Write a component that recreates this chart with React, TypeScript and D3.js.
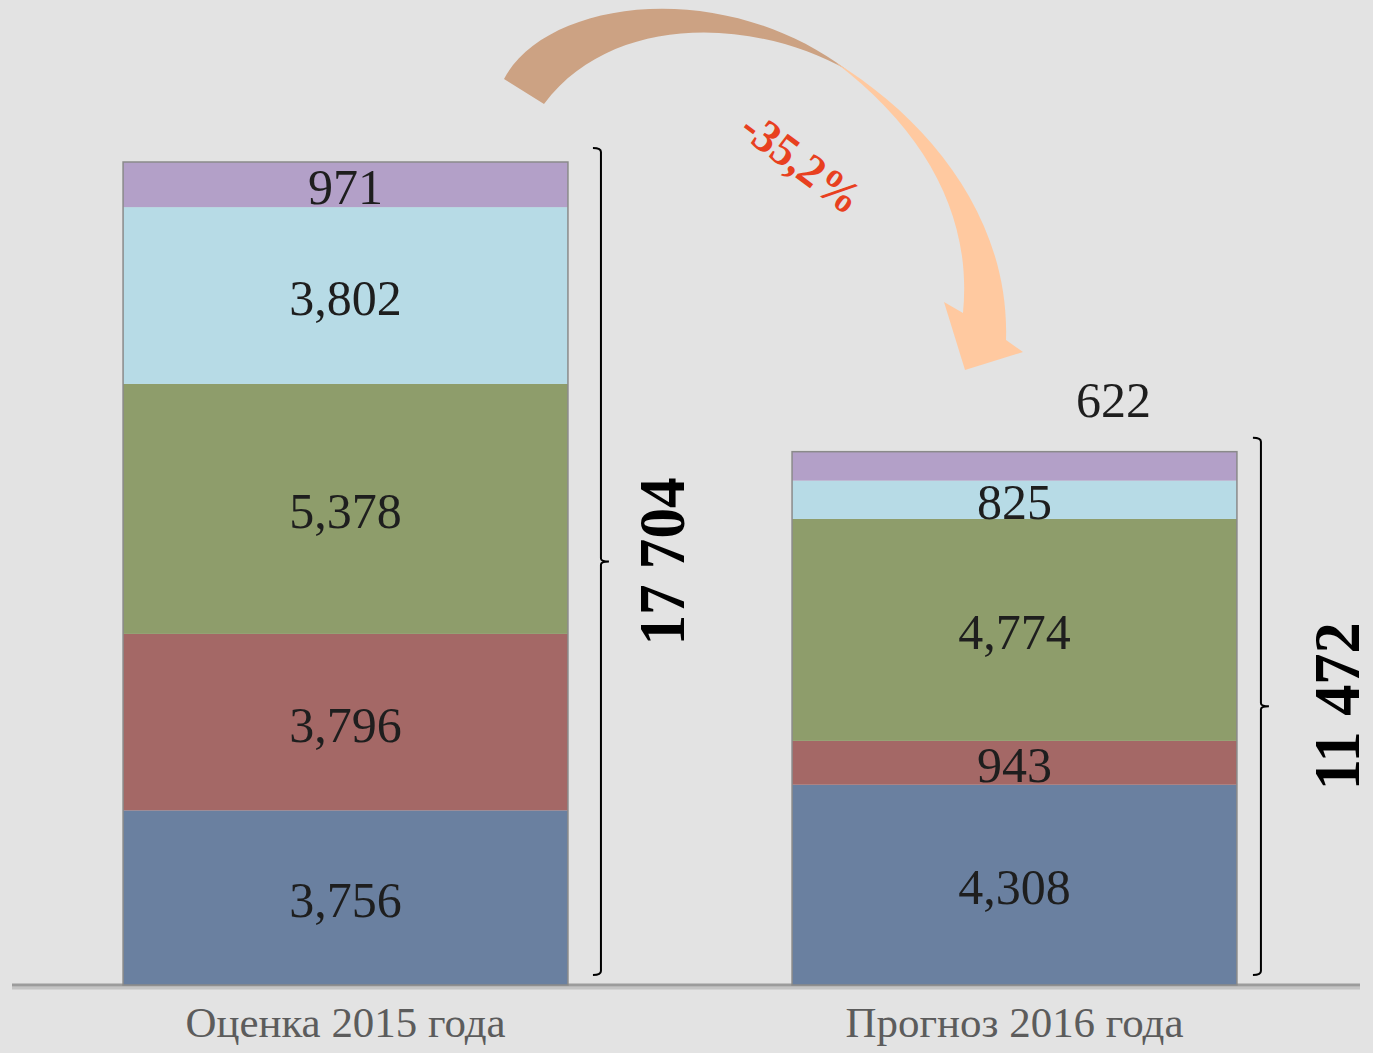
import React from 'react';
import * as d3 from 'd3';

const categories = ['Оценка 2015 года', 'Прогноз 2016 года'];
const seriesKeys = ['blue', 'red', 'green', 'cyan', 'purple'];
const blueValues = [3756, 4308];
const redValues = [3796, 943];
const greenValues = [5378, 4774];
const cyanValues = [3802, 825];
const purpleValues = [971, 622];
const totalLabels = ['17 704', '11 472'];
const changeLabel = '-35,2%';

const colors: Record<string, string> = {
  blue: '#6a80a0',
  red: '#a46866',
  green: '#8e9d6b',
  cyan: '#b7dbe6',
  purple: '#b3a0c8',
};

const W = 1373;
const H = 1053;
const baseY = 985;
const topY = 162;
const serif = '"Liberation Serif", "Times New Roman", "DejaVu Serif", serif';

const rows = categories.map((c, i) => ({
  category: c,
  blue: blueValues[i],
  red: redValues[i],
  green: greenValues[i],
  cyan: cyanValues[i],
  purple: purpleValues[i],
}));

export default function App() {
  const stacked = d3.stack<any>().keys(seriesKeys)(rows);
  const totals = rows.map(r => d3.sum(seriesKeys, k => r[k]));

  const x = d3.scaleBand<string>()
    .domain(categories)
    .range([6, 1354])
    .paddingInner(0.335)
    .paddingOuter(0.175);

  const y = d3.scaleLinear()
    .domain([0, d3.max(totals) as number])
    .range([baseY, topY]);

  const fmt = d3.format(',');
  const bracketGap = [33, 24];
  const totalOffset = [60, 75];
  const bw = x.bandwidth();

  return (
    <svg width={W} height={H} style={{ position: 'absolute', left: 0, top: 0, background: '#e3e3e3' }}>
      <rect x={0} y={0} width={W} height={H} fill="#e3e3e3" />

      {/* curved arrow */}
      <path
        d="M504,79 C545,0 720,-25 847,70 C760,20 615,10 544,104 Z"
        fill="#cca283"
      />
      <path
        d="M835,62 C930,120 1010,220 1006,340 L1023,352 L965,370 L944,302 L963,313 C972,220 930,135 835,62 Z"
        fill="#ffc9a0"
      />
      <text
        transform="translate(802,162) rotate(37)"
        textAnchor="middle"
        dy="0.35em"
        fontFamily={serif}
        fontWeight="bold"
        fontSize={46}
        textLength={138}
        lengthAdjust="spacingAndGlyphs"
        fill="#e8401f"
      >
        {changeLabel}
      </text>

      {/* axis line */}
      <line x1={12} x2={1360} y1={baseY + 3} y2={baseY + 3} stroke="#c4c4c4" strokeWidth={3} />
      <line x1={12} x2={1360} y1={baseY} y2={baseY} stroke="#9c9c9c" strokeWidth={3} />

      {/* bars */}
      {stacked.map(s => (
        <g key={s.key}>
          {s.map((d, i) => (
            <rect
              key={i}
              x={x(categories[i])}
              y={y(d[1])}
              width={bw}
              height={y(d[0]) - y(d[1])}
              fill={colors[s.key]}
            />
          ))}
        </g>
      ))}
      {categories.map((c, i) => (
        <rect
          key={c}
          x={x(c)}
          y={y(totals[i])}
          width={bw}
          height={baseY - y(totals[i])}
          fill="none"
          stroke="#8a8a8a"
          strokeWidth={1.5}
        />
      ))}

      {/* value labels */}
      {stacked.map(s =>
        s.map((d, i) => {
          const h = y(d[0]) - y(d[1]);
          const cx = (x(categories[i]) as number) + bw / 2;
          const inside = h >= 32;
          return (
            <text
              key={s.key + i}
              x={inside ? cx : cx + 99}
              y={inside ? (y(d[0]) + y(d[1])) / 2 + 2 : y(d[1]) - 52}
              dy="0.35em"
              textAnchor="middle"
              fontFamily={serif}
              fontSize={50}
              fill="#1e1e1e"
            >
              {fmt(d[1] - d[0])}
            </text>
          );
        })
      )}

      {/* brackets with totals */}
      {categories.map((c, i) => {
        const bx = (x(c) as number) + bw + bracketGap[i];
        const t = y(totals[i]) - 14;
        const b = baseY - 10;
        const m = (t + b) / 2;
        return (
          <g key={c}>
            <path
              d={`M${bx - 8},${t} Q${bx},${t} ${bx},${t + 4} L${bx},${m - 3} Q${bx},${m} ${bx + 8},${m} Q${bx},${m} ${bx},${m + 3} L${bx},${b - 4} Q${bx},${b} ${bx - 8},${b}`}
              fill="none"
              stroke="#000"
              strokeWidth={2}
            />
            <text
              transform={`translate(${bx + totalOffset[i]},${m}) rotate(-90)`}
              textAnchor="middle"
              dy="0.35em"
              fontFamily={serif}
              fontWeight="bold"
              fontSize={66}
              textLength={168}
              lengthAdjust="spacingAndGlyphs"
              fill="#000"
            >
              {totalLabels[i]}
            </text>
          </g>
        );
      })}

      {/* category labels */}
      {categories.map((c, i) => (
        <text
          key={c}
          x={(x(c) as number) + bw / 2}
          y={1037}
          textAnchor="middle"
          fontFamily={serif}
          fontSize={42}
          textLength={i === 0 ? 320 : 338}
          lengthAdjust="spacingAndGlyphs"
          fill="#5c5c5c"
        >
          {c}
        </text>
      ))}
    </svg>
  );
}
